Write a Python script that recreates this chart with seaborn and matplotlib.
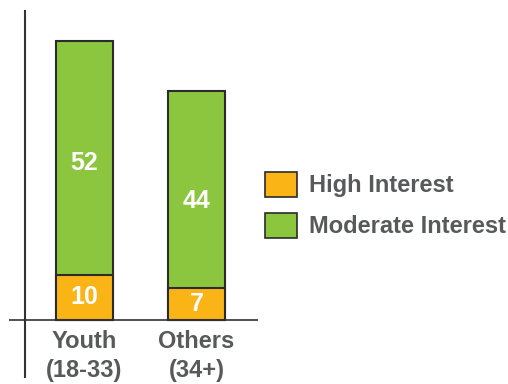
import numpy as np
import matplotlib
matplotlib.use("Agg")
import matplotlib.pyplot as plt
import seaborn as sns
import pandas as pd
from matplotlib.patches import Patch

sns.set_style("white")
plt.rcParams['font.family'] = ['Liberation Sans', 'DejaVu Sans']

# data
groups = ["Youth\n(18-33)", "Others\n(34+)"]
high_interest = [10, 7]
moderate_interest = [52, 44]
series_names = ["High Interest", "Moderate Interest"]

orange = "#FBB416"
green = "#8CC63F"
edge = "#2b2b2b"
text_grey = "#58595B"

df = pd.DataFrame({"group": groups, "high": high_interest, "moderate": moderate_interest})
df["total"] = df["high"] + df["moderate"]

fig = plt.figure(figsize=(5.08, 3.84), dpi=100)
W, H = 508, 384
ax = fig.add_axes([9 / W, 1 - 378 / H, (258 - 9) / W, (378 - 10) / H])

# stacked bars: total (green) under high (orange)
sns.barplot(data=df, x="group", y="total", color=green, edgecolor=edge, linewidth=1.5,
            width=0.51, saturation=1, ax=ax)
sns.barplot(data=df, x="group", y="high", color=orange, edgecolor=edge, linewidth=1.5,
            width=0.51, saturation=1, ax=ax)

ax.set_xlim(-0.674, 1.549)
ax.set_ylim(-12.9, 68.9)
for s in ax.spines.values():
    s.set_visible(False)
ax.axhline(0, color="#333333", lw=1.2, zorder=5)
ax.axvline(-0.531, color="#333333", lw=1.5, zorder=5)

# value labels (the big green labels sit a bit below the middle, as in the original)
green_label_drop = [1.0, 2.6]
for i, row in df.iterrows():
    ax.text(i, row["high"] / 2, str(row["high"]), ha="center", va="center",
            color="white", fontsize=18, fontweight="bold")
    ax.text(i, row["high"] + row["moderate"] / 2 - green_label_drop[i], str(row["moderate"]),
            ha="center", va="center", color="white", fontsize=18, fontweight="bold")

# category labels
ax.set_xticks([])
ax.set_yticks([])
ax.set_xlabel("")
ax.set_ylabel("")
for i, g in enumerate(groups):
    ax.text(i, -2.3, g, ha="center", va="top", color=text_grey, fontsize=17,
            fontweight="bold", linespacing=1.3)

handles = [Patch(facecolor=orange, edgecolor=edge, linewidth=1.2),
           Patch(facecolor=green, edgecolor=edge, linewidth=1.2)]
leg = fig.legend(handles, series_names, loc="center left", bbox_to_anchor=(265 / W, 1 - 205 / H),
                 frameon=False, handlelength=1.35, handleheight=1.25, handletextpad=0.5,
                 labelspacing=0.65, borderaxespad=0, borderpad=0,
                 prop={"size": 17, "weight": "bold"})
for t in leg.get_texts():
    t.set_color(text_grey)

fig.savefig("out.png", dpi=100)
